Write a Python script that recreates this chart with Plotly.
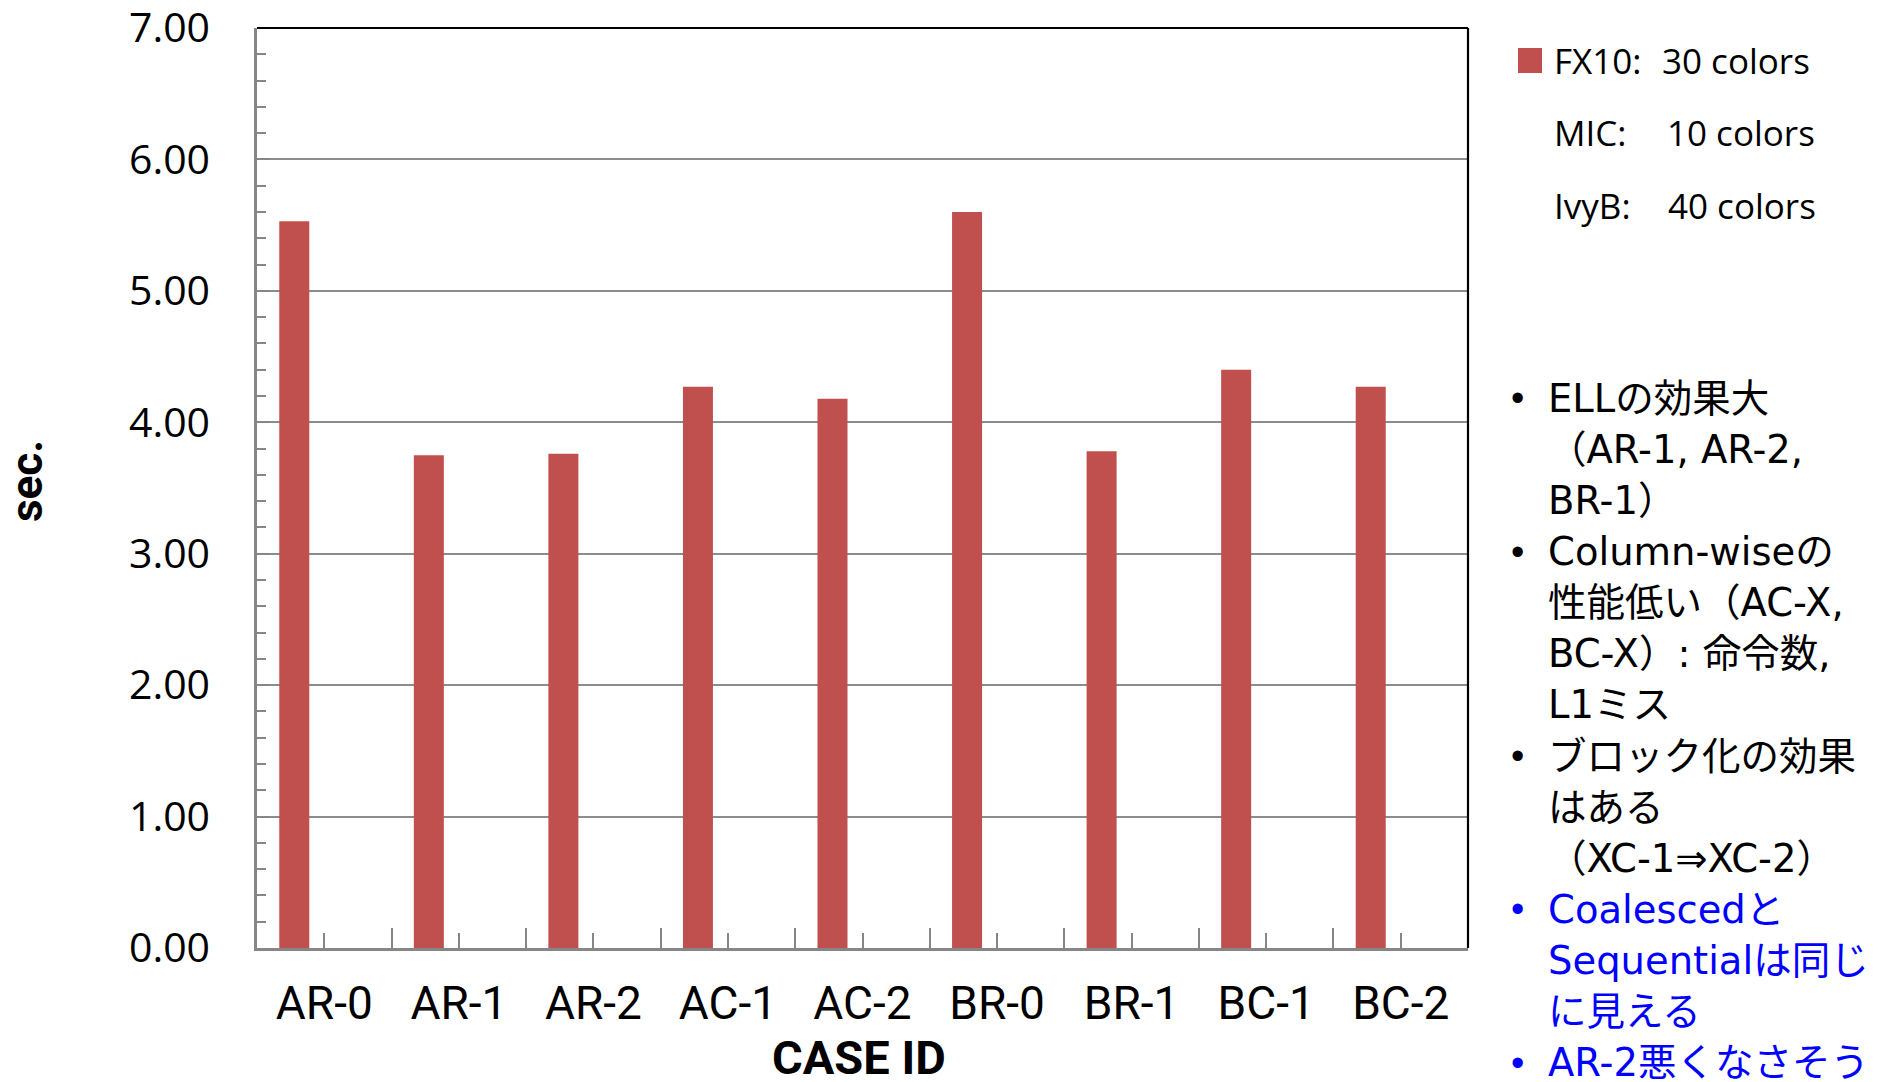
import plotly.graph_objects as go

# ---- data -------------------------------------------------------------
cases = ["AR-0", "AR-1", "AR-2", "AC-1", "AC-2", "BR-0", "BR-1", "BC-1", "BC-2"]
fx10_sec = [5.53, 3.75, 3.76, 4.27, 4.18, 5.60, 3.78, 4.40, 4.27]
mic_sec = [None] * len(cases)    # no MIC timings yet
ivyb_sec = [None] * len(cases)   # no IvyB timings yet

series_labels = ["FX10:", "MIC:", "IvyB:"]
series_colors_note = ["30 colors", "10 colors", "40 colors"]

notes = [
    ("ELLの効果大", True, "#000000"),
    ("（AR-1, AR-2,", False, "#000000"),
    ("BR-1）", False, "#000000"),
    ("Column-wiseの", True, "#000000"),
    ("性能低い（AC-X,", False, "#000000"),
    ("BC-X）: 命令数,", False, "#000000"),
    ("L1ミス", False, "#000000"),
    ("ブロック化の効果", True, "#000000"),
    ("はある", False, "#000000"),
    ("（XC-1⇒XC-2）", False, "#000000"),
    ("Coalescedと", True, "#0000FF"),
    ("Sequentialは同じ", False, "#0000FF"),
    ("に見える", False, "#0000FF"),
    ("AR-2悪くなさそう", True, "#0000FF"),
]

# ---- layout geometry --------------------------------------------------
W, H = 1881, 1082
ML, MR, MT, MB = 257, 413, 28, 134
PW, PH = W - ML - MR, H - MT - MB

BAR_RED = "#C0504D"
AXIS_GREY = "#868686"
GRID_GREY = "#8C8C8C"


def px_x(px):
    return (px - ML) / PW


def px_y(py):
    return (H - MB - py) / PH


fig = go.Figure()
fig.add_trace(go.Bar(name="FX10", x=cases, y=fx10_sec, marker_color=BAR_RED,
                     marker_line_width=0, showlegend=False))
fig.add_trace(go.Bar(name="MIC", x=cases, y=mic_sec, marker_color="#4F81BD",
                     marker_line_width=0, showlegend=False))
fig.add_trace(go.Bar(name="IvyB", x=cases, y=ivyb_sec, marker_color="#9BBB59",
                     marker_line_width=0, showlegend=False))
# empty helper trace so the category-centre tick axis gets drawn
fig.add_trace(go.Scatter(x=[], y=[], xaxis="x2", yaxis="y", mode="markers",
                         showlegend=False, hoverinfo="skip"))

fig.update_layout(
    width=W, height=H,
    margin=dict(l=ML, r=MR, t=MT, b=MB, pad=0, autoexpand=False),
    paper_bgcolor="white", plot_bgcolor="white",
    barmode="group", bargap=0.331, bargroupgap=0,
    showlegend=False,
    xaxis=dict(
        type="category", categoryorder="array", categoryarray=cases,
        range=[-0.5, len(cases) - 0.5], automargin=False,
        showline=True, linecolor=AXIS_GREY, linewidth=2.5,
        tickson="boundaries", ticks="inside", ticklen=20, tickwidth=1.5,
        tickcolor=AXIS_GREY, showgrid=False, zeroline=False,
        tickfont=dict(family="Roboto", size=46, color="black"),
        ticklabelstandoff=13,
    ),
    xaxis2=dict(
        overlaying="x", anchor="y", type="linear", automargin=False,
        range=[-0.5, len(cases) - 0.5],
        tickmode="array", tickvals=list(range(len(cases))),
        ticks="inside", ticklen=15, tickwidth=1.5, tickcolor=AXIS_GREY,
        showticklabels=False, showgrid=False, showline=False, zeroline=False,
        side="bottom",
    ),
    yaxis=dict(
        range=[0, 7], dtick=1, tickformat=".2f", automargin=False,
        showline=True, linecolor=AXIS_GREY, linewidth=2.5,
        ticks="inside", ticklen=13, tickwidth=1.5, tickcolor=AXIS_GREY,
        showgrid=True, gridcolor=GRID_GREY, gridwidth=1.5, zeroline=False,
        minor=dict(dtick=0.2, ticks="inside", ticklen=9, tickwidth=1.5,
                   tickcolor=AXIS_GREY, showgrid=False),
        tickfont=dict(family="Open Sans", size=41, color="black"),
        ticklabelstandoff=36, ticklabeloverflow="allow",
    ),
)

# black frame on the top and right of the plot area
fig.add_shape(type="line", xref="x domain", yref="y domain",
              x0=0, x1=1, y0=1, y1=1, line=dict(color="black", width=2.2))
fig.add_shape(type="line", xref="x domain", yref="y domain",
              x0=1, x1=1, y0=0, y1=1, line=dict(color="black", width=2.2))

# axis titles
fig.add_annotation(text="<b>sec.</b>", textangle=-90, showarrow=False,
                   xref="paper", yref="paper", x=px_x(27), y=px_y(481),
                   xanchor="center", yanchor="middle",
                   font=dict(family="Roboto", size=44, color="black"))
fig.add_annotation(text="<b>CASE ID</b>", showarrow=False,
                   xref="paper", yref="paper", x=px_x(859), y=px_y(1057),
                   xanchor="center", yanchor="middle",
                   font=dict(family="Roboto", size=47, color="black"))

# series key
legend_font = dict(family="Open Sans", size=35, color="black")
row_y = [61, 133, 205]
note_x = [1660, 1665, 1666]
fig.add_shape(type="rect", xref="paper", yref="paper",
              x0=px_x(1518), x1=px_x(1542), y0=px_y(73), y1=px_y(48),
              fillcolor=BAR_RED, line=dict(width=0))
for label, note, ry, nx in zip(series_labels, series_colors_note, row_y, note_x):
    fig.add_annotation(text=label, showarrow=False, xref="paper", yref="paper",
                       x=px_x(1552), y=px_y(ry), xanchor="left", yanchor="middle",
                       font=legend_font)
    fig.add_annotation(text=note, showarrow=False, xref="paper", yref="paper",
                       x=px_x(nx), y=px_y(ry), xanchor="left", yanchor="middle",
                       font=legend_font)

# bullet notes on the right
note_font_family = "DejaVu Sans, Noto Sans CJK JP"
for i, (line, bullet, color) in enumerate(notes):
    cy = 398.3 + 51.1 * i
    if bullet:
        fig.add_annotation(text="•", showarrow=False, xref="paper", yref="paper",
                           x=px_x(1517), y=px_y(cy), xanchor="center", yanchor="middle",
                           font=dict(family="Liberation Sans", size=38, color=color))
    fig.add_annotation(text=line, showarrow=False, xref="paper", yref="paper",
                       x=px_x(1546), y=px_y(cy), xanchor="left", yanchor="middle",
                       font=dict(family=note_font_family, size=38.5, color=color))

fig.write_html("out.html")
